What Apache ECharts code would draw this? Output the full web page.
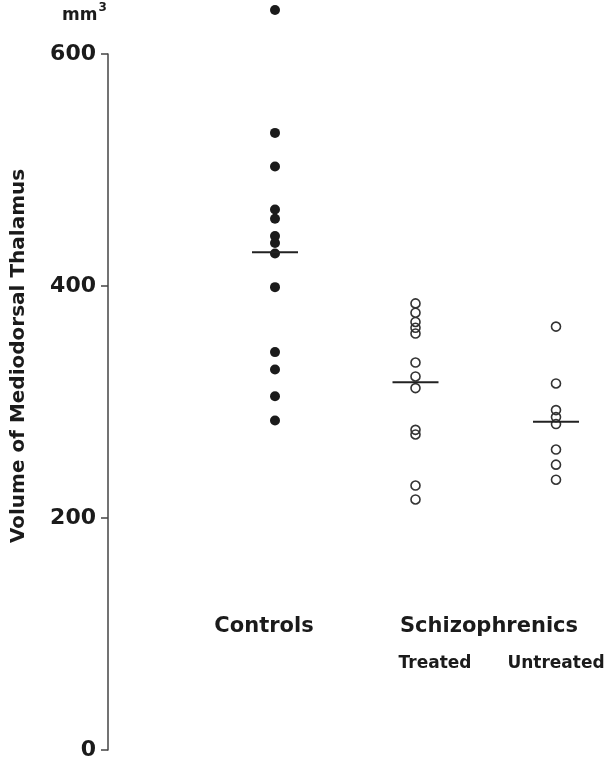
<!DOCTYPE html>
<html>
<head>
<meta charset="utf-8">
<script src="https://cdn.jsdelivr.net/npm/echarts@6/dist/echarts.min.js"></script>
<style>
html,body{margin:0;padding:0;background:#fff;}
#chart{width:608px;height:762px;}
</style>
</head>
<body>
<div id="chart"></div>
<script>
// Data
var groups = ['Controls', 'Treated', 'Untreated'];
var controls = [638, 532, 503, 466, 458, 443, 437, 428, 399, 343, 328, 305, 284];
var treated = [385, 377, 369, 364, 359, 334, 322, 312, 276, 272, 228, 216];
var untreated = [365, 316, 293, 287, 281, 259, 246, 233];
var means = [429, 317, 283];
var yTicks = [0, 200, 400, 600];

function pts(name, arr) { return arr.map(function (v) { return [name, v]; }); }

var FONT = 'DejaVu Sans';
var INK = '#1b1b1b';

var chart = echarts.init(document.getElementById('chart'), null, { renderer: 'canvas' });
chart.setOption({
  backgroundColor: '#ffffff',
  animation: false,
  grid: { left: 275, right: 52, top: 54, bottom: 12, containLabel: false },
  xAxis: {
    type: 'category',
    data: groups,
    boundaryGap: false,
    show: false
  },
  yAxis: {
    type: 'value',
    min: yTicks[0],
    max: yTicks[yTicks.length - 1],
    interval: 200,
    offset: 167,
    axisLine: { show: true, lineStyle: { color: '#444', width: 1.5 } },
    axisTick: { show: true, length: 7, lineStyle: { color: '#444', width: 1.5 } },
    axisLabel: { color: INK, fontFamily: FONT, fontWeight: 'bold', fontSize: 22, margin: 12 },
    splitLine: { show: false }
  },
  series: [
    {
      type: 'scatter', name: 'Controls', clip: false,
      symbol: 'circle', symbolSize: 10,
      itemStyle: { color: INK, opacity: 1 },
      data: pts(groups[0], controls)
    },
    {
      type: 'scatter', name: 'Treated', clip: false,
      symbol: 'circle', symbolSize: 9,
      itemStyle: { color: 'rgba(255,255,255,0)', borderColor: '#333', borderWidth: 1.6, opacity: 1 },
      data: pts(groups[1], treated)
    },
    {
      type: 'scatter', name: 'Untreated', clip: false,
      symbol: 'circle', symbolSize: 9,
      itemStyle: { color: 'rgba(255,255,255,0)', borderColor: '#333', borderWidth: 1.6, opacity: 1 },
      data: pts(groups[2], untreated)
    },
    {
      type: 'scatter', name: 'Mean', clip: false, z: 5,
      symbol: 'rect', symbolSize: [46, 2],
      itemStyle: { color: '#222', opacity: 1 },
      data: groups.map(function (g, i) { return [g, means[i]]; })
    }
  ],
  graphic: [
    {
      type: 'text', left: 62, top: 2,
      style: {
        text: '{m|mm}{s|3}',
        rich: {
          m: { fontFamily: FONT, fontWeight: 'bold', fontSize: 17, fill: INK, verticalAlign: 'bottom', lineHeight: 22 },
          s: { fontFamily: FONT, fontWeight: 'bold', fontSize: 12, fill: INK, verticalAlign: 'top', lineHeight: 22, padding: [0, 0, 8, 1] }
        }
      }
    },
    {
      type: 'text', x: 19, y: 356, rotation: Math.PI / 2,
      style: {
        text: 'Volume of Mediodorsal Thalamus',
        fontFamily: FONT, fontWeight: 'bold', fontSize: 20, fill: INK,
        align: 'center', verticalAlign: 'middle'
      }
    },
    {
      type: 'text', x: 264, y: 627,
      style: { text: 'Controls', fontFamily: FONT, fontWeight: 'bold', fontSize: 21, fill: INK, align: 'center', verticalAlign: 'middle' }
    },
    {
      type: 'text', x: 489, y: 627,
      style: { text: 'Schizophrenics', fontFamily: FONT, fontWeight: 'bold', fontSize: 21, fill: INK, align: 'center', verticalAlign: 'middle' }
    },
    {
      type: 'text', x: 435, y: 664,
      style: { text: 'Treated', fontFamily: FONT, fontWeight: 'bold', fontSize: 17, fill: INK, align: 'center', verticalAlign: 'middle' }
    },
    {
      type: 'text', x: 556, y: 664,
      style: { text: 'Untreated', fontFamily: FONT, fontWeight: 'bold', fontSize: 17, fill: INK, align: 'center', verticalAlign: 'middle' }
    }
  ]
});
</script>
</body>
</html>
